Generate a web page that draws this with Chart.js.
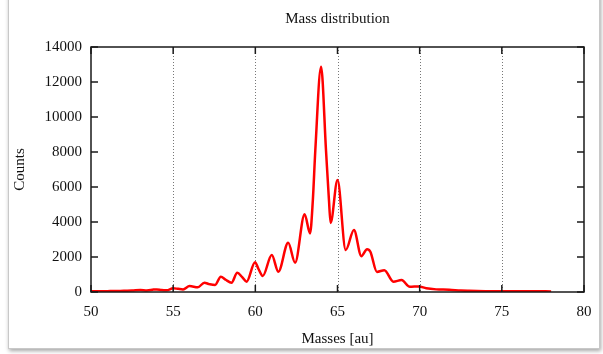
<!DOCTYPE html>
<html>
<head>
<meta charset="utf-8">
<script src="https://cdn.jsdelivr.net/npm/chart.js@4/dist/chart.umd.min.js"></script>
<style>
  html, body { margin: 0; padding: 0; background: #ffffff; overflow: hidden; }
  #frame { position: absolute; left: 8px; top: -10px; width: 590px; height: 357px;
           border: 1px solid #c8c8c8; box-shadow: 1px 2px 4px rgba(0,0,0,0.35); background: #fff; }
  #wrap { position: absolute; left: 0; top: 0; width: 603px; height: 354px; }
</style>
</head>
<body>
<div id="frame"></div>
<div id="wrap"><canvas id="c"></canvas></div>
<script>
// ---- data ----
const chartTitle = "Mass distribution";
const xTitle = "Masses [au]";
const yTitle = "Counts";
const xTicks = [50, 55, 60, 65, 70, 75, 80];
const yTicks = [0, 2000, 4000, 6000, 8000, 10000, 12000, 14000];
const masses = [50.0, 50.5, 51.0, 51.5, 52.0, 52.5, 53.0, 53.4, 53.8, 54.0, 54.3, 54.6, 55.0, 55.3, 55.6,
  56.0, 56.5, 56.9, 57.2, 57.55, 57.9, 58.2, 58.55, 58.9, 59.2, 59.47, 59.98, 60.2, 60.45,
  61.0, 61.4, 62.0, 62.42, 63.0, 63.33, 63.5, 63.65, 64.0, 64.3, 64.48, 64.58,
  65.0, 65.5, 66.0, 66.45, 66.8, 67.0, 67.4, 67.85, 68.4, 68.9, 69.4, 69.95, 70.4,
  71.0, 71.8, 72.5, 73.0, 74.0, 75.0, 76.0, 77.0, 78.0];
const counts = [40, 45, 50, 55, 70, 80, 110, 90, 140, 150, 110, 100, 210, 180, 150,
  340, 270, 530, 450, 400, 875, 700, 530, 1100, 850, 590, 1700, 1300, 914,
  2114, 1160, 2817, 1675, 4450, 3350, 5250, 8100, 12870, 8100, 5257, 3950,
  6400, 2400, 3540, 2050, 2450, 2300, 1150, 1250, 590, 680, 300, 320, 210,
  150, 130, 80, 65, 50, 45, 40, 40, 35];

const points = masses.map((m, i) => ({ x: m, y: counts[i] }));
const FONT = '"Liberation Serif", "Times New Roman", serif';
const TXT = '#111111';

const framePlugin = {
  id: 'framePlugin',
  beforeDatasetsDraw(chart) {
    const { ctx, chartArea: a, scales: { x } } = chart;
    ctx.save();
    ctx.strokeStyle = '#777777';
    ctx.lineWidth = 1;
    ctx.setLineDash([1, 2]);
    x.ticks.forEach(t => {
      if (t.value === x.min || t.value === x.max) return;
      const px = Math.round(x.getPixelForValue(t.value)) + 0.5;
      ctx.beginPath(); ctx.moveTo(px, a.top); ctx.lineTo(px, a.bottom); ctx.stroke();
    });
    ctx.restore();
  },
  afterDraw(chart) {
    const { ctx, chartArea: a, scales: { x, y } } = chart;
    ctx.save();
    ctx.strokeStyle = '#1a1a1a';
    ctx.lineWidth = 1.5;
    ctx.setLineDash([]);
    ctx.strokeRect(a.left, a.top, a.right - a.left, a.bottom - a.top);
    const L = 7;
    ctx.beginPath();
    x.ticks.forEach(t => {
      const px = x.getPixelForValue(t.value);
      ctx.moveTo(px, a.bottom); ctx.lineTo(px, a.bottom - L);
      ctx.moveTo(px, a.top); ctx.lineTo(px, a.top + L);
    });
    y.ticks.forEach(t => {
      const py = y.getPixelForValue(t.value);
      ctx.moveTo(a.left, py); ctx.lineTo(a.left + L, py);
      ctx.moveTo(a.right, py); ctx.lineTo(a.right - L, py);
    });
    ctx.stroke();
    ctx.fillStyle = TXT;
    ctx.font = '15px ' + FONT;
    ctx.textAlign = 'center';
    ctx.textBaseline = 'middle';
    ctx.fillText(chartTitle, (a.left + a.right) / 2, 19);
    ctx.restore();
  }
};

new Chart(document.getElementById('c'), {
  type: 'line',
  data: {
    datasets: [{
      data: points,
      borderColor: '#ff0000',
      borderWidth: 2.5,
      pointRadius: 0,
      fill: false,
      cubicInterpolationMode: 'monotone'
    }]
  },
  options: {
    responsive: true,
    maintainAspectRatio: false,
    animation: false,
    layout: { padding: { top: 47, right: 19, left: 0, bottom: 0 } },
    plugins: { legend: { display: false }, title: { display: false }, tooltip: { enabled: false } },
    scales: {
      x: {
        type: 'linear', min: 50, max: 80,
        afterBuildTicks: s => { s.ticks = xTicks.map(v => ({ value: v })); },
        afterFit: s => { s.height = 62; },
        grid: { display: false, drawTicks: false },
        border: { display: false },
        ticks: { color: TXT, font: { family: FONT, size: 15 }, padding: 11, maxRotation: 0, callback: v => String(v) },
        title: { display: true, text: xTitle, color: TXT, font: { family: FONT, size: 15 }, padding: { top: 6, bottom: 6 } }
      },
      y: {
        type: 'linear', min: 0, max: 14000,
        afterBuildTicks: s => { s.ticks = yTicks.map(v => ({ value: v })); },
        afterFit: s => { s.width = 91; },
        grid: { display: false, drawTicks: false },
        border: { display: false },
        ticks: { color: TXT, font: { family: FONT, size: 15 }, padding: 9, callback: v => String(v) },
        title: { display: true, text: yTitle, color: TXT, font: { family: FONT, size: 15 }, padding: { top: 11, bottom: 11 } }
      }
    }
  },
  plugins: [framePlugin]
});
</script>
</body>
</html>
